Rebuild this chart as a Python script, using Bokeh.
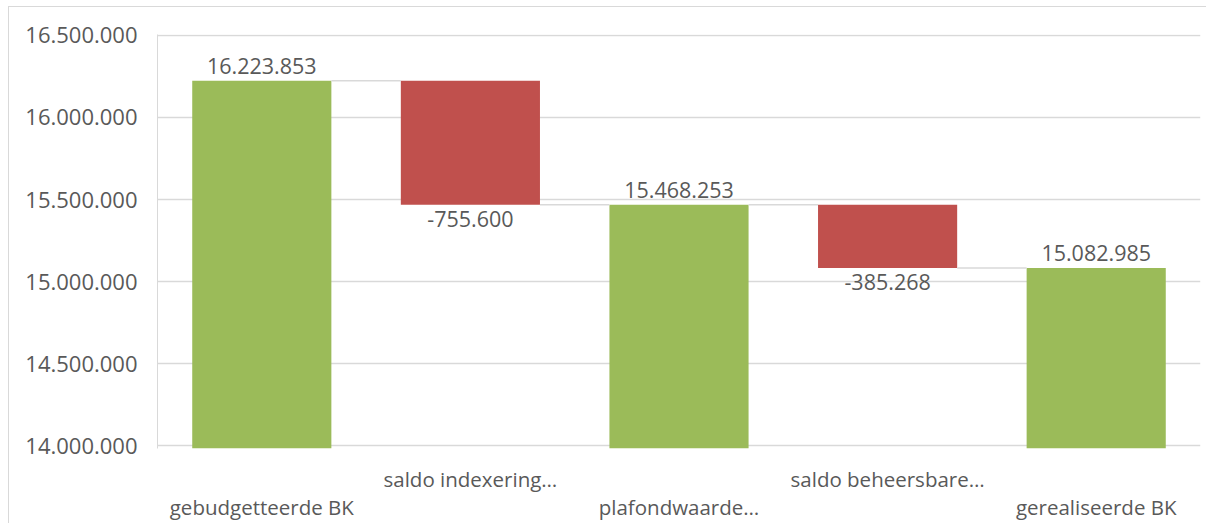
from bokeh.plotting import figure
from bokeh.models import (ColumnDataSource, FixedTicker, LinearAxis, Range1d)
from bokeh.core.properties import value
from bokeh.embed import file_html
from bokeh.resources import INLINE

categories = ["gebudgetteerde BK", "saldo indexering…", "plafondwaarde…",
              "saldo beheersbare…", "gerealiseerde BK"]
amounts = [16223853, -755600, 15468253, -385268, 15082985]
is_total = [True, False, True, False, True]
y_ticks = [14000000, 14500000, 15000000, 15500000, 16000000, 16500000]

GREEN = "#9BBB59"
RED = "#C0504D"
TXT = "#595959"
GRID = "#D9D9D9"
FONT = "Open Sans"

def fmt(v):
    s = f"{abs(v):,}".replace(",", ".")
    return ("-" if v < 0 else "") + s

Y0 = 13982000
Y1 = 16506000

xs, bottoms, tops, colors = [], [], [], []
lab_x, lab_y, lab_t, lab_off = [], [], [], []
running = 0
levels = []
for i, (amt, tot) in enumerate(zip(amounts, is_total)):
    x = i + 0.5
    xs.append(x)
    if tot:
        bottoms.append(Y0)
        tops.append(amt)
        colors.append(GREEN)
        running = amt
        lab_y.append(amt)
        lab_off.append(-15)
    else:
        prev = running
        running = prev + amt
        bottoms.append(min(prev, running))
        tops.append(max(prev, running))
        colors.append(RED if amt < 0 else GREEN)
        lab_y.append(min(prev, running))
        lab_off.append(14)
    lab_x.append(x)
    lab_t.append(fmt(amt))
    levels.append(running)

BAR_W = 0.667

p = figure(frame_width=1043, frame_height=414,
           x_range=Range1d(0, 5), y_range=Range1d(Y0, Y1),
           x_axis_type=None, output_backend="svg", toolbar_location=None,
           min_border_left=148, min_border_right=6, min_border_top=27,
           min_border_bottom=0)
p.outline_line_color = None
p.background_fill_color = "white"
p.border_fill_color = "white"
p.styles = {"border-left": "1px solid #D9D9D9", "border-top": "1px solid #D9D9D9",
            "margin-left": "8px", "margin-top": "6px"}

# y axis
yax = p.yaxis[0]
yax.ticker = FixedTicker(ticks=y_ticks)
yax.major_label_overrides = {t: fmt(t) for t in y_ticks}
yax.major_tick_line_color = None
yax.minor_tick_line_color = None
yax.axis_line_color = GRID
yax.major_label_standoff = 14
yax.major_label_text_font = FONT
yax.major_label_text_font_size = "22px"
yax.major_label_text_color = TXT

p.xgrid.visible = False
p.ygrid.ticker = FixedTicker(ticks=y_ticks)
p.ygrid.grid_line_color = GRID
p.ygrid.grid_line_width = 1.5

# bars
src = ColumnDataSource(dict(x=xs, bottom=bottoms, top=tops, color=colors))
p.vbar(x="x", bottom="bottom", top="top", width=BAR_W, fill_color="color",
       line_color=None, source=src)

# connectors
cx0 = [xs[i] + BAR_W / 2 for i in range(len(xs) - 1)]
cx1 = [xs[i + 1] - BAR_W / 2 for i in range(len(xs) - 1)]
cy = levels[:-1]
p.segment(x0=cx0, y0=cy, x1=cx1, y1=cy, line_color=GRID, line_width=1.5)

# value labels
lsrc = ColumnDataSource(dict(x=lab_x, y=lab_y, t=lab_t, off=lab_off))
p.text(x="x", y="y", text="t", y_offset="off", source=lsrc,
       text_font=value(FONT), text_font_size="21.5px", text_color=TXT,
       text_align="center", text_baseline="alphabetic")

# category axes (two rows)
odd = [i for i in range(len(categories)) if i % 2 == 1]
even = [i for i in range(len(categories)) if i % 2 == 0]
ax1 = LinearAxis(ticker=FixedTicker(ticks=[xs[i] for i in odd]),
                 major_label_overrides={xs[i]: categories[i] for i in odd})
ax2 = LinearAxis(ticker=FixedTicker(ticks=[xs[i] for i in even]),
                 major_label_overrides={xs[i]: categories[i] for i in even})
for ax, so in ((ax1, 10), (ax2, -9)):
    ax.axis_line_color = None
    ax.major_tick_line_color = None
    ax.minor_tick_line_color = None
    ax.major_label_standoff = so
    ax.major_label_text_font = FONT
    ax.major_label_text_font_size = "20.5px"
    ax.major_label_text_color = TXT
    p.add_layout(ax, "below")

open("out.html", "w").write(file_html(p, INLINE))
